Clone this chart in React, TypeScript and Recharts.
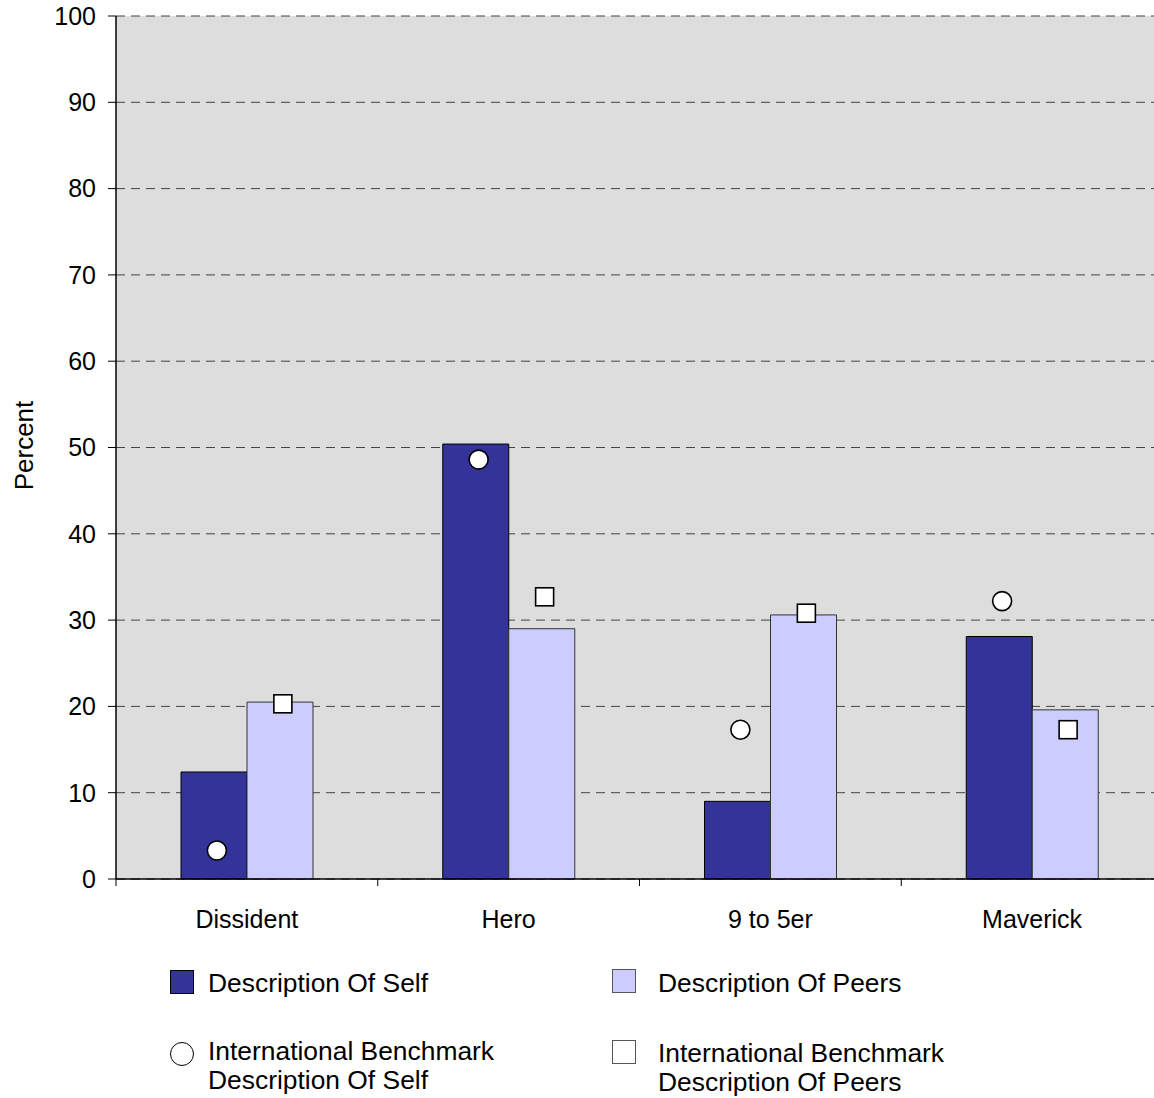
import { ComposedChart, Bar, Line, XAxis, YAxis, CartesianGrid } from 'recharts';

const categories = ['Dissident', 'Hero', '9 to 5er', 'Maverick'];
const selfValues = [12.4, 50.4, 9.0, 28.1];
const peerValues = [20.5, 29.0, 30.6, 19.6];
const selfBenchmark = [3.3, 48.6, 17.3, 32.2];
const peerBenchmark = [20.3, 32.7, 30.8, 17.3];
const yTicks = [0, 10, 20, 30, 40, 50, 60, 70, 80, 90, 100];

const rows = categories.map((name, i) => ({
  name,
  self: selfValues[i],
  peers: peerValues[i],
  selfBench: selfBenchmark[i],
  peersBench: peerBenchmark[i],
}));

const FONT = '"Liberation Sans", Arial, sans-serif';
const SELF = '#333399';
const PEERS = '#CCCCFF';
const BAR = 66;
const NUDGE = 3;

function CategoryTick(props: any) {
  const { x, y, payload } = props;
  const half = payload?.offset ?? 130.9;
  return (
    <g>
      <line x1={x - half} x2={x - half} y1={y} y2={y + 7} stroke="#000" strokeWidth={1} />
      <text x={x} y={y + 49} textAnchor="middle" fontSize={25} fontFamily={FONT} fill="#000">
        {payload.value}
      </text>
    </g>
  );
}

function PercentLabel(props: any) {
  const vb = props.viewBox ?? { y: 16, height: 863 };
  const cy = vb.y + vb.height / 2 - 2;
  return (
    <text x={33} y={cy} transform={`rotate(-90, 33, ${cy})`} textAnchor="middle" fontSize={26} fontFamily={FONT} fill="#000">
      Percent
    </text>
  );
}

const selfDot = (p: any) => (
  <circle key={`sb-${p.index}`} cx={p.cx - BAR / 2 + NUDGE} cy={p.cy} r={9.5} fill="#fff" stroke="#000" strokeWidth={1.6} />
);

const peerDot = (p: any) => (
  <rect key={`pb-${p.index}`} x={p.cx + BAR / 2 + NUDGE - 9} y={p.cy - 9} width={18} height={18} fill="#fff" stroke="#000" strokeWidth={1.6} />
);

const legendText: React.CSSProperties = {
  position: 'absolute',
  fontFamily: FONT,
  fontSize: 26.4,
  lineHeight: '29px',
  color: '#000',
  whiteSpace: 'nowrap',
};

export default function App() {
  return (
    <div style={{ position: 'relative', width: 1154, height: 1098, overflow: 'hidden', background: '#fff' }}>
      <style>{'body{margin:0;overflow:hidden}'}</style>
      <ComposedChart
        width={1163}
        height={945}
        data={rows}
        margin={{ top: 16, right: 0, left: 0, bottom: 0 }}
        barGap={0}
        barSize={BAR}
      >
        <CartesianGrid vertical={false} stroke="#444" strokeDasharray="9 6" fill="#DDDDDD" fillOpacity={1} />
        <XAxis
          dataKey="name"
          height={66}
          axisLine={{ stroke: '#000', strokeWidth: 1.5 }}
          tickLine={false}
          tickSize={0}
          tickMargin={0}
          tick={<CategoryTick />}
          interval={0}
        />
        <YAxis
          width={116}
          domain={[0, 100]}
          ticks={yTicks}
          interval={0}
          axisLine={{ stroke: '#000', strokeWidth: 1.5 }}
          tickLine={{ stroke: '#000' }}
          tickSize={8}
          tickMargin={12}
          tick={{ fontSize: 25, fontFamily: FONT, fill: '#000' }}
          label={<PercentLabel />}
        />
        <Bar dataKey="self" fill={SELF} stroke="#000" strokeWidth={1} isAnimationActive={false} />
        <Bar dataKey="peers" fill={PEERS} stroke="#333" strokeWidth={1} isAnimationActive={false} />
        <Line dataKey="selfBench" stroke="none" dot={selfDot} activeDot={false} isAnimationActive={false} legendType="none" />
        <Line dataKey="peersBench" stroke="none" dot={peerDot} activeDot={false} isAnimationActive={false} legendType="none" />
      </ComposedChart>

      {/* legend, two columns */}
      <div style={{ position: 'absolute', left: 170, top: 970, width: 22, height: 22, background: SELF, border: '1px solid #000' }} />
      <div style={{ ...legendText, left: 208, top: 969 }}>Description Of Self</div>

      <div style={{ position: 'absolute', left: 612, top: 969, width: 22, height: 22, background: PEERS, border: '1px solid #555' }} />
      <div style={{ ...legendText, left: 658, top: 969 }}>Description Of Peers</div>

      <div style={{ position: 'absolute', left: 170, top: 1042, width: 22, height: 22, borderRadius: '50%', border: '1px solid #000' }} />
      <div style={{ ...legendText, left: 208, top: 1037 }}>
        International Benchmark
        <br />
        Description Of Self
      </div>

      <div style={{ position: 'absolute', left: 612, top: 1040, width: 22, height: 22, background: '#fff', border: '1px solid #555' }} />
      <div style={{ ...legendText, left: 658, top: 1039 }}>
        International Benchmark
        <br />
        Description Of Peers
      </div>
    </div>
  );
}
